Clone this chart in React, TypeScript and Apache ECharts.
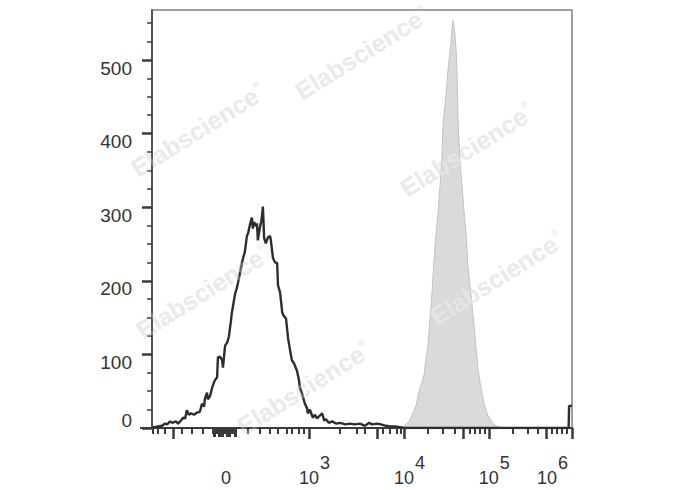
import React, { useEffect, useRef } from 'react';
import * as echarts from 'echarts';

// x axis: display channel 0..1000 (biexponential display), y axis: event count
const blackHistogram: number[][] = [
  [0, 1], [7, 1], [14, 2], [24, 3], [31, 6], [36, 5], [43, 9], [48, 7], [57, 9], [62, 6], [67, 9],
  [74, 14], [79, 13], [83, 24], [88, 18], [93, 20], [100, 18], [107, 21], [114, 22], [119, 33],
  [124, 29], [126, 40], [131, 48], [133, 39], [138, 43], [143, 54], [145, 58], [150, 65], [155, 69],
  [157, 96], [162, 97], [167, 92], [169, 82], [174, 112], [179, 116], [183, 124], [188, 146],
  [190, 156], [195, 173], [198, 183], [202, 190], [205, 198], [210, 212], [214, 224], [217, 231],
  [221, 239], [226, 261], [229, 265], [233, 276], [238, 286], [240, 271], [243, 280], [248, 274],
  [250, 278], [252, 255], [257, 273], [260, 280], [262, 289], [264, 301], [267, 258], [271, 251],
  [276, 259], [281, 261], [283, 255], [288, 231], [293, 225], [298, 224], [300, 194], [305, 184],
  [310, 157], [314, 152], [319, 149], [324, 122], [329, 105], [333, 92], [338, 88], [345, 78],
  [350, 65], [352, 55], [357, 47], [362, 37], [364, 33], [369, 27], [371, 20], [376, 25], [381, 17],
  [383, 14], [388, 18], [393, 13], [398, 16], [405, 20], [410, 10], [414, 12], [421, 7], [429, 9],
  [438, 6], [448, 7], [460, 5], [471, 6], [483, 5], [495, 6], [507, 3], [517, 7], [524, 5], [536, 6],
  [545, 5], [557, 3], [567, 2], [579, 2], [590, 1], [600, 0], [992, 0], [993, 30], [1000, 30],
];

const grayHistogram: number[][] = [
  [585, 0], [590, 1], [598, 2], [605, 5], [612, 9], [619, 17], [624, 24], [629, 31], [633, 43],
  [638, 54], [643, 62], [648, 73], [652, 92], [657, 112], [662, 149], [667, 187], [671, 225],
  [676, 262], [681, 293], [686, 330], [688, 347], [690, 364], [693, 412], [695, 425], [700, 452],
  [705, 489], [710, 514], [712, 524], [714, 541], [717, 554], [719, 548], [721, 538], [724, 514],
  [726, 486], [729, 412], [731, 391], [733, 364], [738, 330], [743, 293], [748, 262], [752, 221],
  [757, 194], [762, 167], [767, 139], [771, 112], [776, 81], [781, 62], [786, 47], [790, 35],
  [795, 24], [800, 17], [805, 12], [812, 6], [819, 3], [829, 1], [835, 0],
];

// axis decorations
const xLabelValues = [176, 374, 600, 802, 1000];
const xLabelExps = [null, 3, 4, 5, 6];
const xMajorTicks = [50, 374, 536, 600, 740, 802, 938, 1000];
const xMinorTicks = [
  2, 14, 31, 71, 95, 121, 229, 257, 281, 300, 321, 333, 350, 362, 448, 488, 507, 550, 567, 583, 593,
  657, 693, 721, 757, 769, 781, 793, 860, 895, 919, 952, 964, 976, 988,
  144, 146, 148, 150, 152, 154, 156, 158, 160, 162, 164, 166, 168, 170, 172, 174, 176, 178, 180,
  182, 184, 186, 188, 190, 192, 194, 196, 198, 200,
];
const xBlockTicks = [146, 148, 150, 160, 162, 164, 166, 168, 178, 180, 182, 184, 186, 196, 198, 200];
const yMax = 568;
const yMajorTicks = [0, 100, 200, 300, 400, 500];
const yMinorTicks = [25, 50, 75, 125, 150, 175, 225, 250, 275, 325, 350, 375, 425, 450, 475, 525, 550];

const watermarks = [
  [362, 53], [198, 130], [467, 150], [203, 292], [497, 278], [304, 388],
];

const FONT = 'Liberation Sans, Arial, sans-serif';

export default function App() {
  const ref = useRef<HTMLDivElement>(null);
  useEffect(() => {
    if (!ref.current) return;
    const chart = echarts.init(ref.current, undefined, { renderer: 'svg' });
    const wmText = (x: number, y: number, fill: string, z: number) => ({
      type: 'text',
      x,
      y,
      rotation: (32 * Math.PI) / 180,
      z,
      silent: true,
      style: {
        text: '{t|Elabscience}{r|®}',
        fill,
        align: 'center',
        verticalAlign: 'middle',
        rich: {
          t: { fontSize: 25, fontWeight: 'bold', fontFamily: FONT, fill },
          r: { fontSize: 9, fontFamily: FONT, fill, padding: [0, 0, 16, 1] },
        },
      },
    });
    const graphics: any[] = [];
    watermarks.forEach(([x, y]) => {
      graphics.push(wmText(x, y, '#e3e3e3', -1));
      graphics.push(wmText(x, y, 'rgba(255,255,255,0.3)', 50));
    });
    graphics.push({
      type: 'line',
      z: 10,
      shape: { x1: 140, y1: 428, x2: 153, y2: 428 },
      style: { stroke: '#3a3a3a', lineWidth: 2 },
    });

    const baseX = {
      type: 'value', min: 0, max: 1000, gridIndex: 0, position: 'bottom',
      splitLine: { show: false },
    };
    chart.setOption({
      animation: false,
      backgroundColor: '#ffffff',
      grid: {
        left: 152, right: 116, top: 10, bottom: 62, show: true,
        borderColor: '#808080', borderWidth: 1.5,
        containLabel: false,
        outerBoundsMode: 'none',
      },
      graphic: graphics,
      xAxis: [
        {
          ...baseX,
          axisLine: { show: true, lineStyle: { color: '#3a3a3a', width: 2 } },
          axisTick: { show: true, customValues: xMajorTicks, length: 11, lineStyle: { color: '#3a3a3a', width: 2.5 } },
          axisLabel: {
            show: true,
            customValues: xLabelValues,
            showMaxLabel: true,
            showMinLabel: true,
            margin: 25,
            color: '#333',
            fontFamily: FONT,
            formatter: (v: number) => {
              const i = xLabelValues.indexOf(v);
              const e = xLabelExps[i];
              if (e === null || e === undefined) return '{b|0}';
              if (e === 6) return '{b|10}{s|' + e + '}{q| }';
              return '{p| }{b|10}{s|' + e + '}';
            },
            rich: {
              b: { fontSize: 18, lineHeight: 50, fontFamily: FONT, color: '#333' },
              s: { fontSize: 18, lineHeight: 20, fontFamily: FONT, color: '#333', padding: [0, 0, 30, 1] },
              p: { width: 11, lineHeight: 50, fontSize: 18 },
              q: { width: 39, lineHeight: 50, fontSize: 18 },
            },
          },
        },
        {
          ...baseX,
          axisLine: { show: false },
          axisTick: { show: true, customValues: xMinorTicks, length: 6, lineStyle: { color: '#3a3a3a', width: 2 } },
          axisLabel: { show: false },
        },
        {
          ...baseX,
          axisLine: { show: false },
          axisTick: { show: true, customValues: xBlockTicks, length: 9, lineStyle: { color: '#3a3a3a', width: 2 } },
          axisLabel: { show: false },
        },
      ],
      yAxis: [
        {
          type: 'value', min: 0, max: yMax, position: 'left',
          splitLine: { show: false },
          axisLine: { show: true, lineStyle: { color: '#3a3a3a', width: 1.5 } },
          axisTick: { show: true, customValues: yMajorTicks, length: 10, lineStyle: { color: '#3a3a3a', width: 2.5 } },
          axisLabel: {
            customValues: yMajorTicks,
            margin: 20,
            color: '#333',
            fontFamily: FONT,
            formatter: (v: number) => (v === 0 ? '{z|0}' : '{n|' + v + '}'),
            rich: {
              n: { fontSize: 19, fontFamily: FONT, color: '#333', padding: [16, 0, 0, 0] },
              z: { fontSize: 19, fontFamily: FONT, color: '#333', padding: [0, 0, 16, 0] },
            },
          },
        },
        {
          type: 'value', min: 0, max: yMax, position: 'left',
          splitLine: { show: false },
          axisLine: { show: false },
          axisTick: { show: true, customValues: yMinorTicks, length: 5, lineStyle: { color: '#3a3a3a', width: 1.5 } },
          axisLabel: { show: false },
        },
      ],
      series: [
        {
          type: 'line',
          data: grayHistogram,
          xAxisIndex: 0,
          yAxisIndex: 0,
          symbol: 'none',
          lineStyle: { color: '#c2c2c2', width: 1 },
          areaStyle: { color: '#dadada', opacity: 1 },
          z: 2,
        },
        {
          type: 'line',
          data: blackHistogram,
          xAxisIndex: 0,
          yAxisIndex: 0,
          symbol: 'none',
          lineStyle: { color: '#2e2e2e', width: 2.4 },
          z: 3,
        },
      ],
    });
    return () => chart.dispose();
  }, []);
  return (
    <div
      ref={ref}
      style={{ position: 'fixed', left: 0, top: 0, width: 688, height: 490, background: '#fff' }}
    />
  );
}
